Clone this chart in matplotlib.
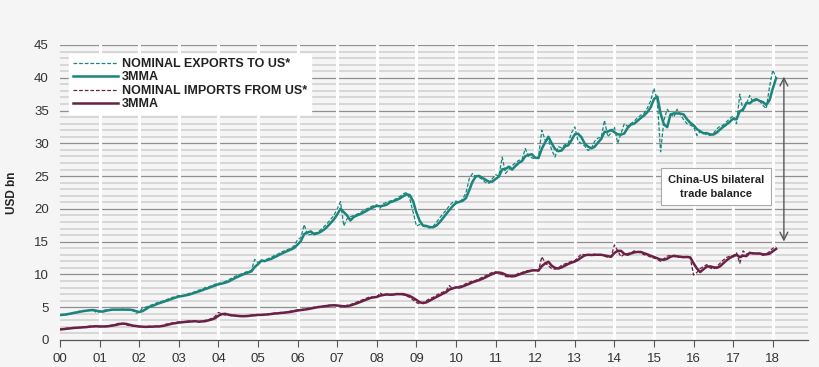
import numpy as np
import pandas as pd
import matplotlib
matplotlib.use('Agg')
import matplotlib.pyplot as plt

plt.rcParams['font.family'] = ['Liberation Sans', 'DejaVu Sans']

# Monthly data, Jan 2000 - Feb 2018 (USD bn)
exports_to_us = [
    3.8, 3.9, 4.0, 4.1, 4.2, 4.3, 4.4, 4.5, 4.5, 4.6, 4.6, 4.2,        # 2000
    4.3, 4.5, 4.6, 4.6, 4.7, 4.6, 4.6, 4.7, 4.6, 4.6, 4.5, 4.1,        # 2001
    4.2, 4.9, 5.0, 5.2, 5.4, 5.6, 5.8, 5.9, 6.1, 6.3, 6.5, 6.6,        # 2002
    6.8, 6.7, 6.9, 7.1, 7.2, 7.4, 7.6, 7.7, 8.0, 8.1, 8.3, 8.5,        # 2003
    8.7, 8.6, 8.9, 9.2, 9.4, 9.7, 9.9, 10.1, 10.3, 10.5, 10.6, 12.3,   # 2004
    11.8, 12.2, 12.1, 12.4, 12.6, 12.9, 13.1, 13.4, 13.6, 13.8, 14.0, 14.4,  # 2005
    15.3, 15.6, 17.6, 16.0, 16.1, 16.3, 16.4, 16.8, 17.3, 17.8, 18.4, 19.0,  # 2006
    20.0, 21.1, 17.4, 18.5, 18.8, 19.0, 19.2, 19.4, 19.8, 20.0, 20.3, 20.5,  # 2007
    20.6, 20.1, 20.8, 21.0, 21.2, 21.3, 21.6, 21.9, 22.3, 22.5, 21.5, 19.5,  # 2008
    17.4, 17.6, 17.4, 17.2, 17.1, 17.3, 17.9, 18.6, 19.2, 19.8, 20.5, 21.0,  # 2009
    21.2, 21.0, 21.5, 22.4, 24.6, 25.4, 24.9, 24.8, 24.5, 24.0, 23.9, 24.6,  # 2010
    25.2, 25.0, 27.9, 25.4, 26.0, 26.6, 27.0, 27.4, 27.5, 29.2, 28.0, 27.8,  # 2011
    27.6, 27.9, 32.0, 30.5, 30.5, 29.0, 27.9, 29.5, 29.3, 29.8, 30.0, 31.6,  # 2012
    32.5, 30.3, 30.0, 29.6, 28.9, 29.2, 30.3, 30.8, 30.9, 33.5, 31.0, 31.6,  # 2013
    32.5, 30.0, 31.5, 33.0, 32.6, 33.0, 33.4, 33.9, 34.3, 34.6, 35.4, 36.5,  # 2014
    38.4, 36.5, 28.7, 33.5, 35.2, 34.5, 34.0, 35.2, 34.4, 33.6, 33.0, 32.8,  # 2015
    32.5, 31.2, 31.8, 31.6, 31.3, 31.2, 31.5, 32.2, 32.6, 32.8, 33.3, 33.8,  # 2016
    34.2, 33.0, 37.5, 35.0, 36.0, 37.3, 36.3, 36.6, 36.5, 35.8, 35.3, 38.6,  # 2017
    41.2, 40.0,                                                              # 2018
]

imports_from_us = [
    1.6, 1.7, 1.8, 1.8, 1.9, 1.9, 1.9, 2.0, 2.0, 2.1, 2.1, 2.1,        # 2000
    2.0, 2.1, 2.1, 2.2, 2.3, 2.4, 2.6, 2.5, 2.3, 2.2, 2.1, 2.1,        # 2001
    2.0, 2.0, 2.0, 2.1, 2.0, 2.1, 2.1, 2.2, 2.4, 2.5, 2.6, 2.6,        # 2002
    2.8, 2.7, 2.8, 2.9, 2.8, 2.9, 2.7, 2.9, 3.0, 3.1, 3.3, 3.6,        # 2003
    4.2, 4.0, 3.8, 3.8, 3.7, 3.7, 3.6, 3.6, 3.7, 3.7, 3.8, 3.8,        # 2004
    3.9, 3.8, 3.9, 4.0, 4.0, 4.1, 4.1, 4.2, 4.2, 4.3, 4.4, 4.5,        # 2005
    4.6, 4.6, 4.7, 4.8, 4.9, 5.0, 5.1, 5.1, 5.2, 5.3, 5.3, 5.3,        # 2006
    5.2, 5.1, 5.1, 5.3, 5.4, 5.6, 5.8, 6.0, 6.2, 6.4, 6.6, 6.5,        # 2007
    6.6, 7.2, 6.8, 6.9, 7.0, 6.9, 7.1, 7.0, 6.9, 6.7, 6.5, 6.1,        # 2008
    5.7, 5.5, 5.7, 6.0, 6.3, 6.5, 6.8, 7.1, 7.3, 7.5, 8.3, 7.8,        # 2009
    8.0, 8.2, 8.3, 8.6, 8.8, 9.0, 9.1, 9.3, 9.6, 9.8, 10.1, 10.3,      # 2010
    10.4, 10.2, 10.0, 9.7, 9.6, 9.8, 9.9, 10.2, 10.3, 10.5, 10.6, 10.7,  # 2011
    10.6, 10.5, 12.7, 11.8, 11.3, 10.9, 10.8, 11.0, 11.4, 11.6, 11.8, 12.0,  # 2012
    12.1, 12.6, 13.1, 13.0, 12.9, 13.0, 13.1, 12.9, 13.0, 12.8, 12.6, 12.7,  # 2013
    14.5, 13.6, 12.7, 13.1, 13.2, 13.3, 13.6, 13.4, 13.3, 13.0, 12.9, 12.6,  # 2014
    12.5, 12.3, 12.0, 12.4, 12.8, 12.9, 12.8, 12.6, 12.7, 12.6, 12.7, 12.5,  # 2015
    9.9, 10.3, 10.9, 11.2, 11.5, 11.0, 10.8, 11.2, 11.7, 12.2, 12.6, 12.8,   # 2016
    12.9, 13.3, 11.7, 13.6, 13.1, 13.2, 13.3, 13.1, 13.2, 12.9, 13.1, 13.5,  # 2017
    14.0, 14.2,                                                              # 2018
]

year_labels = ['%02d' % y for y in range(0, 19)]

# Colours
COLOR_EXP = '#1b857c'
COLOR_IMP = '#6b2145'
BG = '#f5f5f5'

exp = pd.Series(exports_to_us)
imp = pd.Series(imports_from_us)
t = np.arange(len(exp)) / 12.0
exp_3mma = exp.rolling(3, min_periods=1).mean()
imp_3mma = imp.rolling(3, min_periods=1).mean()

fig = plt.figure(figsize=(8.2, 3.67), dpi=100, facecolor=BG)
ax = fig.add_axes([60 / 820, 27 / 367, 748 / 820, 295 / 367])
ax.set_facecolor(BG)

# Horizontal grid: every 1 light, every 5 darker
for v in range(1, 46):
    if v % 5 == 0:
        ax.axhline(v, color='#8f8f8f', lw=0.9, zorder=1)
    else:
        ax.axhline(v, color='#d4d4d4', lw=1.3, zorder=1)
# White vertical separators at each year
for yr in range(1, 19):
    ax.axvline(yr, color='white', lw=2.2, zorder=2)

ax.plot(t, exp, color=COLOR_EXP, lw=0.9, ls=(0, (3, 1.5)), zorder=3,
        label='NOMINAL EXPORTS TO US*')
ax.plot(t, exp_3mma, color=COLOR_EXP, lw=1.8, zorder=4, label='3MMA')
ax.plot(t, imp, color=COLOR_IMP, lw=0.9, ls=(0, (3, 1.5)), zorder=3,
        label='NOMINAL IMPORTS FROM US*')
ax.plot(t, imp_3mma, color=COLOR_IMP, lw=1.8, zorder=4, label='3MMA')

ax.set_xlim(0, 748 / 39.6)
ax.set_ylim(0, 45)
ax.set_xticks(range(0, 19))
ax.set_xticklabels(year_labels)
ax.set_yticks(range(0, 46, 5))
ax.tick_params(axis='x', length=5, width=0.8, color='#555555', labelsize=9.5,
               labelcolor='#333333', pad=4)
ax.tick_params(axis='y', length=0, labelsize=9.5, labelcolor='#333333', pad=8)

for s in ['top', 'right', 'left']:
    ax.spines[s].set_visible(False)
ax.spines['bottom'].set_color('#555555')
ax.spines['bottom'].set_linewidth(0.9)

ax.set_ylabel('USD bn', fontsize=8.5, fontweight='bold', color='#222222')
ax.yaxis.set_label_coords(-0.056, 0.5)

leg = ax.legend(loc='upper left', bbox_to_anchor=(0.004, 0.99),
                frameon=True, fancybox=False, framealpha=1, edgecolor='white',
                handlelength=3.6, handletextpad=0.3, labelspacing=0.12,
                borderpad=0.3, prop={'weight': 'bold', 'size': 9})
leg.get_frame().set_facecolor('white')
for txt in leg.get_texts():
    txt.set_color('#222222')
leg.set_zorder(5)

# Trade balance arrow and label
ax.annotate('', xy=(18.28, 40.6), xytext=(18.28, 14.6),
            arrowprops=dict(arrowstyle='<->', color='#555555', lw=1.0,
                            mutation_scale=14), zorder=6)
ax.text(16.57, 23.4, 'China-US bilateral\ntrade balance', ha='center',
        va='center', fontsize=8, fontweight='bold', color='#222222',
        linespacing=1.5, zorder=6,
        bbox=dict(boxstyle='square,pad=0.6', facecolor='white',
                  edgecolor='#aaaaaa', lw=0.8))

plt.savefig('out.png', dpi=100, facecolor=BG)
